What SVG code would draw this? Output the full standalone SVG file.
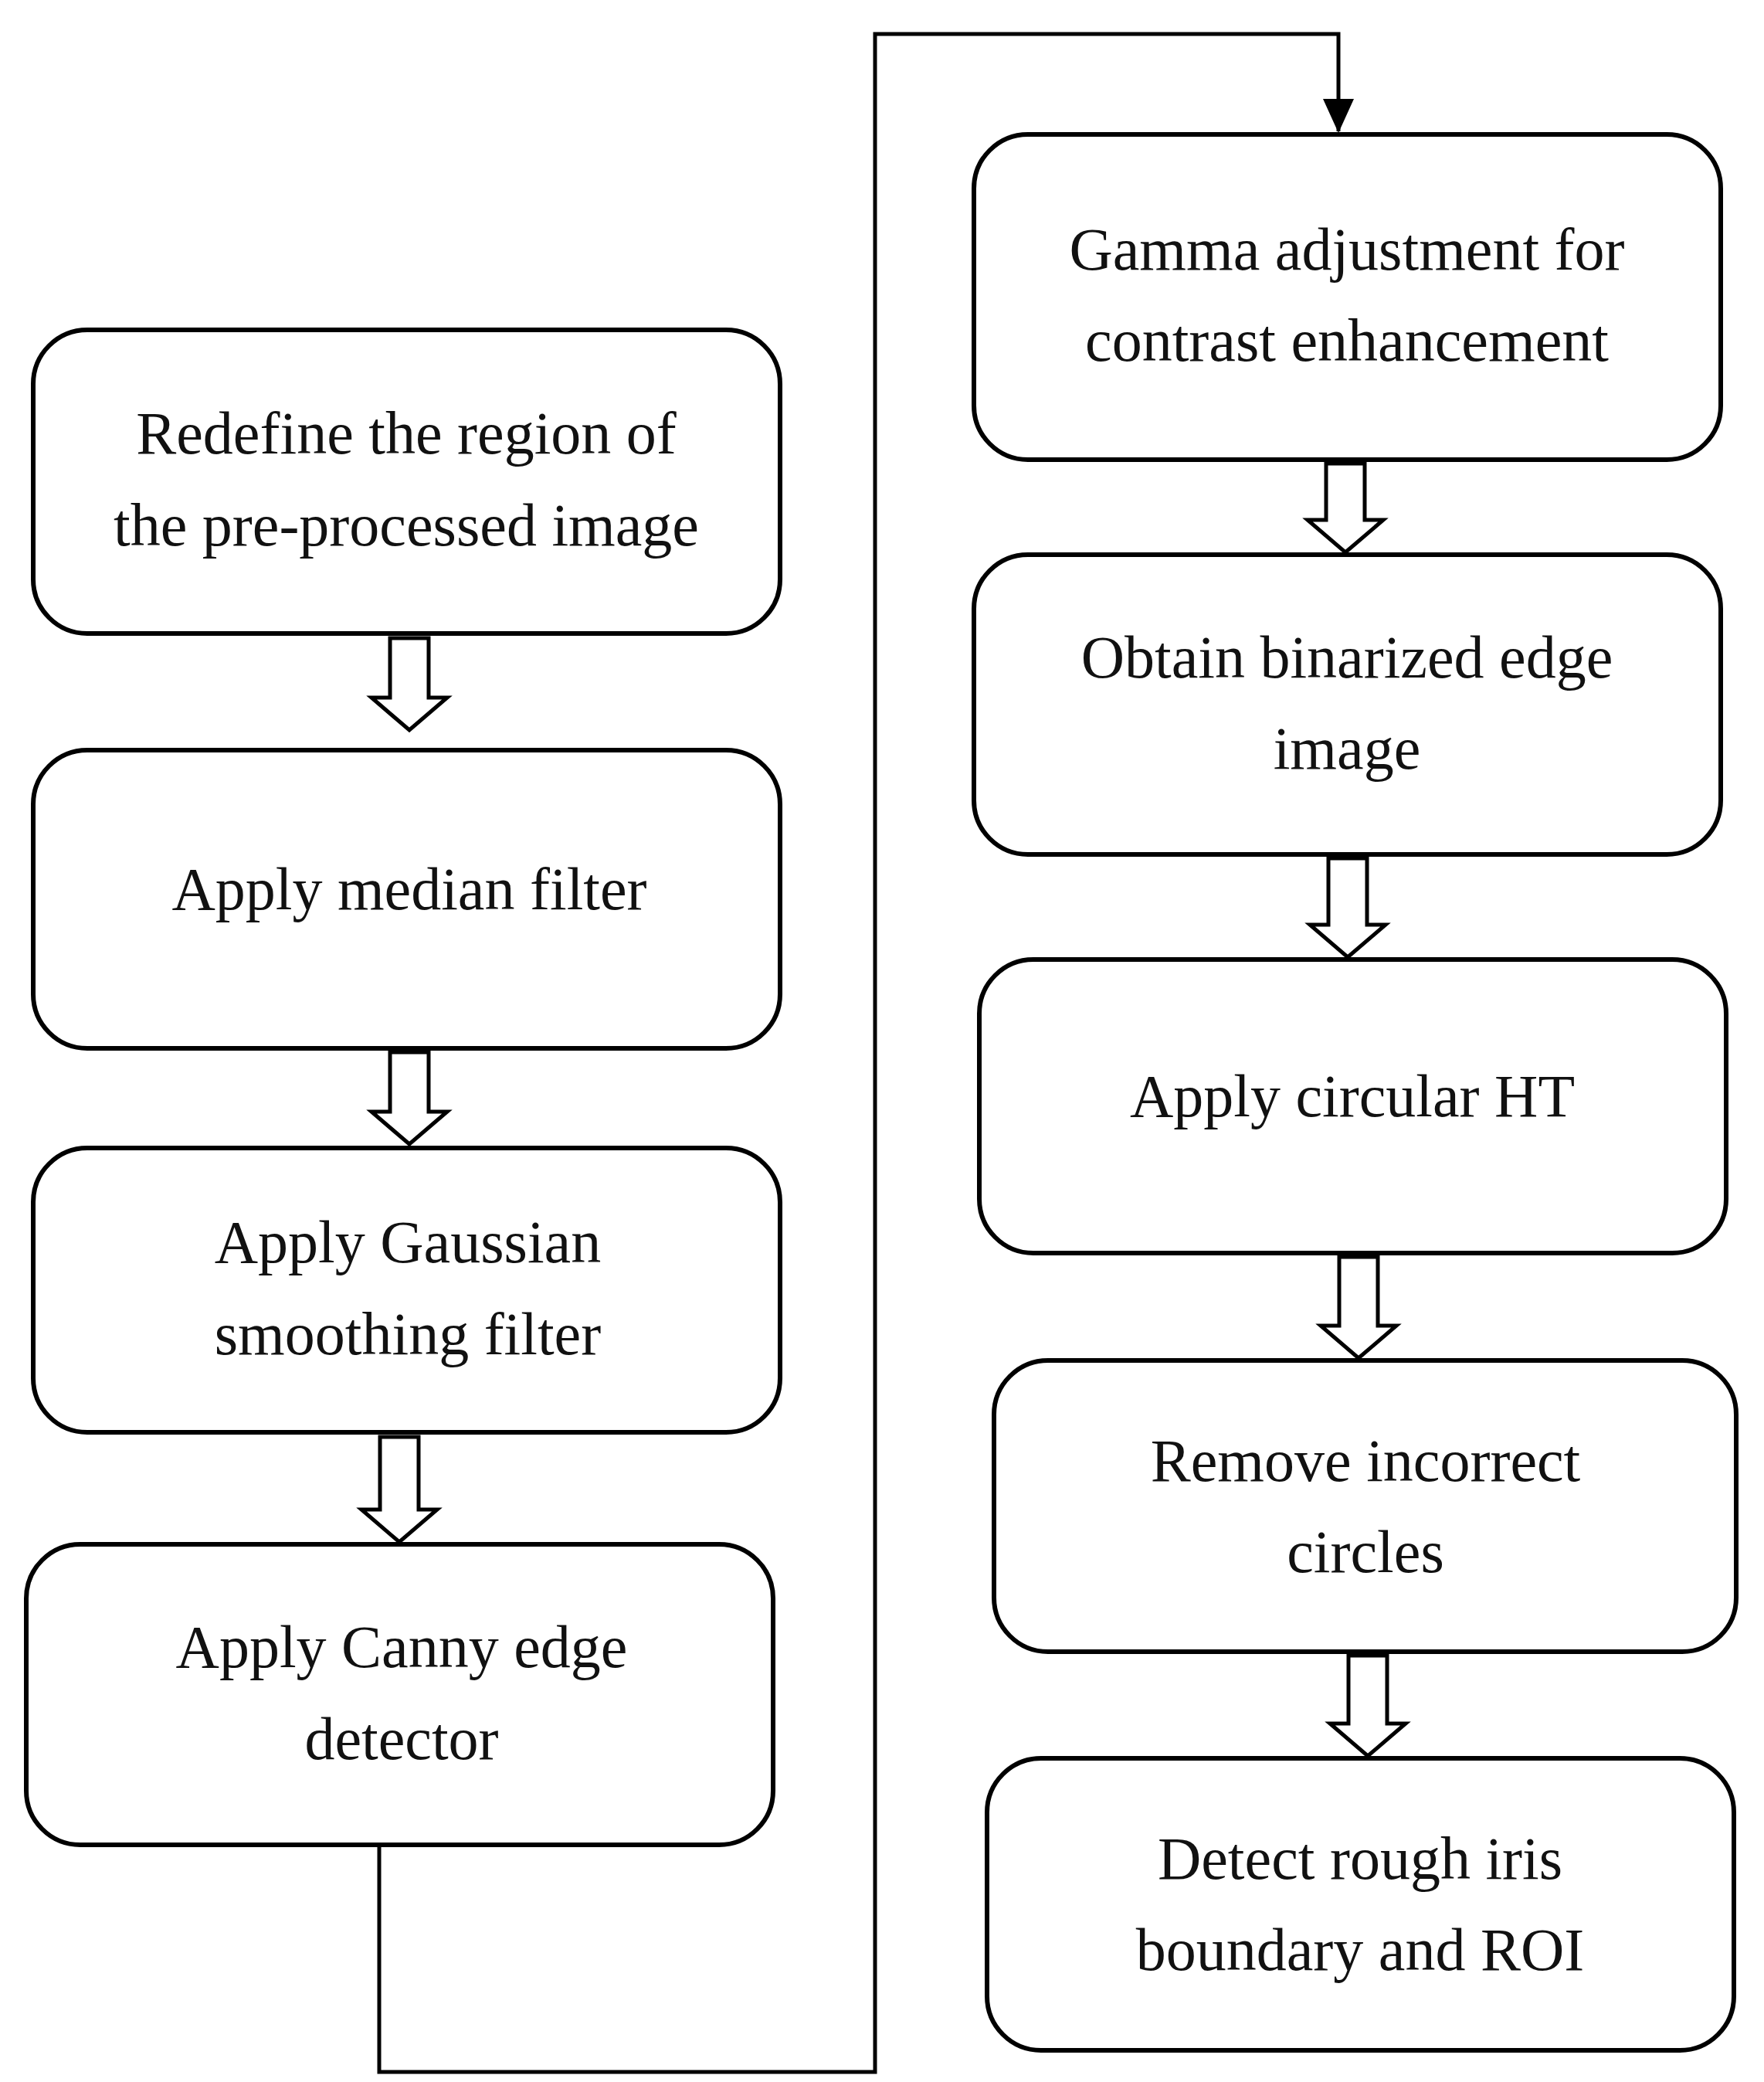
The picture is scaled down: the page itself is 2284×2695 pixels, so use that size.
<svg xmlns="http://www.w3.org/2000/svg" width="2284" height="2695" viewBox="0 0 2284 2695">
<style>
.b{fill:#fff;stroke:#000;stroke-width:6}
.t{font-family:"Liberation Serif","Times New Roman",serif;font-size:78px;text-anchor:middle;fill:#111}
.h{fill:#fff;stroke:#000;stroke-width:5;stroke-linejoin:miter}
.c{fill:none;stroke:#000;stroke-width:5}
</style>
<defs>
<marker id="ah" markerWidth="10" markerHeight="10" refX="9" refY="5" orient="auto" markerUnits="userSpaceOnUse" viewBox="0 0 10 10"><path d="M0,0 L10,5 L0,10 z" fill="#000"/></marker>
</defs>
<rect width="2284" height="2695" fill="#fff"/>
<g id="connectors">
<path class="c" d="M491,2388 V2682 H1133 V44 H1733 V170" marker-end="url(#ah)" style="marker-end:none"/>
<path d="M1713,128 L1753,128 L1733,172 z" fill="#000"/>
<path class="h" d="M505,826 h50 v77 h24 l-49,42 l-49,-42 h24 z"/>
<path class="h" d="M505,1362 h50 v77 h24 l-49,42 l-49,-42 h24 z"/>
<path class="h" d="M492,1860 h50 v94 h24 l-49,42 l-49,-42 h24 z"/>
<path class="h" d="M1717,600 h50 v73 h24 l-49,42 l-49,-42 h24 z"/>
<path class="h" d="M1720,1111 h50 v86 h24 l-49,42 l-49,-42 h24 z"/>
<path class="h" d="M1734,1627 h50 v89 h24 l-49,42 l-49,-42 h24 z"/>
<path class="h" d="M1746,2143 h50 v88 h24 l-49,42 l-49,-42 h24 z"/>
</g>
<g id="n1"><rect class="b" x="43" y="427" width="967" height="393" rx="70"/><text class="t" x="526" y="587">Redefine the region of</text><text class="t" x="526" y="706">the pre-processed image</text></g>
<g id="n2"><rect class="b" x="43" y="971" width="967" height="386" rx="70"/><text class="t" x="530" y="1177">Apply median filter</text></g>
<g id="n3"><rect class="b" x="43" y="1486" width="967" height="368" rx="70"/><text class="t" x="528" y="1634">Apply Gaussian</text><text class="t" x="528" y="1753">smoothing filter</text></g>
<g id="n4"><rect class="b" x="34" y="1999" width="967" height="389" rx="70"/><text class="t" x="520" y="2158">Apply Canny edge</text><text class="t" x="520" y="2277">detector</text></g>
<g id="n5"><rect class="b" x="1261" y="174" width="967" height="421" rx="70"/><text class="t" x="1744" y="349">Gamma adjustment for</text><text class="t" x="1744" y="467">contrast enhancement</text></g>
<g id="n6"><rect class="b" x="1261" y="718" width="967" height="388" rx="70"/><text class="t" x="1744" y="877">Obtain binarized edge</text><text class="t" x="1744" y="995">image</text></g>
<g id="n7"><rect class="b" x="1268" y="1242" width="967" height="380" rx="70"/><text class="t" x="1751" y="1445">Apply circular HT</text></g>
<g id="n8"><rect class="b" x="1287" y="1761" width="961" height="377" rx="70"/><text class="t" x="1768" y="1917">Remove incorrect</text><text class="t" x="1768" y="2035">circles</text></g>
<g id="n9"><rect class="b" x="1278" y="2276" width="967" height="378" rx="70"/><text class="t" x="1761" y="2432">Detect rough iris</text><text class="t" x="1761" y="2550">boundary and ROI</text></g>
</svg>
